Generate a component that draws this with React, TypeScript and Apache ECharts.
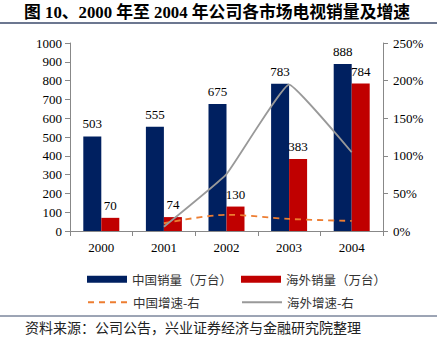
import React, { useEffect, useRef } from "react";
import * as echarts from "echarts";

const years = ["2000", "2001", "2002", "2003", "2004"];
const chinaSales = [503, 555, 675, 783, 888];
const overseasSales = [70, 74, 130, 383, 784];
const chinaGrowth: (number | string)[] = ["-", 10.3, 21.6, 16.0, 13.4];
const overseasGrowth: (number | string)[] = ["-", 5.7, 75.7, 194.6, 104.7];
const titleText = "图 10、2000 年至 2004 年公司各市场电视销量及增速";
const sourceText = "资料来源：公司公告，兴业证券经济与金融研究院整理";

const serif = "'Liberation Serif', 'Times New Roman', 'Noto Sans CJK SC', serif";
const cjk = "'Noto Sans CJK SC', sans-serif";

export default function App() {
  const ref = useRef<HTMLDivElement>(null);
  useEffect(() => {
    if (!ref.current) return;
    const chart = echarts.init(ref.current, null, { renderer: "svg" });
    const legendText = { fontFamily: cjk, fontSize: 12.5, color: "#333" };
    const hideSym = { opacity: 0 };
    chart.setOption({
      animation: false,
      backgroundColor: "#fff",
      graphic: [
        {
          type: "text",
          x: 217,
          y: 12,
          style: {
            text: titleText,
            fontFamily: serif,
            fontWeight: "bold",
            fontSize: 16.8,
            fill: "#000",
            align: "center",
            verticalAlign: "middle",
          },
        },
        { type: "line", shape: { x1: 0, y1: 23, x2: 437, y2: 23 }, style: { stroke: "#3b4a6b", lineWidth: 1.5 } },
        { type: "line", shape: { x1: 0, y1: 316, x2: 437, y2: 316 }, style: { stroke: "#3b4a6b", lineWidth: 1 } },
        {
          type: "text",
          x: 25,
          y: 320,
          style: { text: sourceText, font: `14px ${cjk}`, fill: "#222" },
        },
      ],
      grid: { left: 70, right: 54, top: 43, bottom: 110 },
      legend: [
        { data: ["中国销量（万台）"], left: 82, top: 268, itemWidth: 40, itemHeight: 7, itemGap: 0, icon: "rect", textStyle: legendText },
        { data: ["海外销量（万台）"], left: 236, top: 268, itemWidth: 40, itemHeight: 7, itemGap: 0, icon: "rect", textStyle: legendText },
        { data: [{ name: "中国增速-右", itemStyle: hideSym }], left: 82, top: 291, itemWidth: 40, itemHeight: 7, itemGap: 0, textStyle: legendText },
        { data: [{ name: "海外增速-右", itemStyle: hideSym }], left: 236, top: 291, itemWidth: 40, itemHeight: 7, itemGap: 0, textStyle: legendText },
      ],
      xAxis: {
        type: "category",
        data: years,
        axisLine: { lineStyle: { color: "#888" } },
        axisTick: { show: true, alignWithLabel: false, lineStyle: { color: "#888" } },
        axisLabel: { fontFamily: serif, fontSize: 13, color: "#000", margin: 10 },
      },
      yAxis: [
        {
          type: "value",
          min: 0,
          max: 1000,
          interval: 100,
          axisLine: { show: true, lineStyle: { color: "#888" } },
          axisTick: { show: true, lineStyle: { color: "#888" } },
          splitLine: { show: false },
          axisLabel: { fontFamily: serif, fontSize: 13, color: "#000", margin: 8, formatter: (v: number) => String(v) },
        },
        {
          type: "value",
          min: 0,
          max: 250,
          interval: 50,
          position: "right",
          axisLine: { show: true, lineStyle: { color: "#888" } },
          axisTick: { show: true, lineStyle: { color: "#888" } },
          splitLine: { show: false },
          axisLabel: { fontFamily: serif, fontSize: 13, color: "#000", margin: 10, formatter: "{value}%" },
        },
      ],
      series: [
        {
          name: "中国销量（万台）",
          type: "bar",
          data: chinaSales,
          barWidth: 18,
          barGap: "0%",
          itemStyle: { color: "#002060" },
          label: { show: true, position: "top", fontFamily: serif, fontSize: 13, color: "#000", distance: 6 },
        },
        {
          name: "海外销量（万台）",
          type: "bar",
          data: overseasSales,
          barWidth: 18,
          barGap: "0%",
          itemStyle: { color: "#C00000" },
          label: { show: true, position: "top", fontFamily: serif, fontSize: 13, color: "#000", distance: 6 },
        },
        {
          name: "中国增速-右",
          type: "line",
          yAxisIndex: 1,
          data: chinaGrowth,
          smooth: 0.3,
          symbol: "none",
          lineStyle: { color: "#ED7D31", type: [6, 5], width: 1.8 },
          itemStyle: { color: "#ED7D31" },
        },
        {
          name: "海外增速-右",
          type: "line",
          yAxisIndex: 1,
          data: overseasGrowth,
          smooth: 0.1,
          symbol: "none",
          lineStyle: { color: "#999", width: 1.8 },
          itemStyle: { color: "#999" },
        },
      ],
    });
    return () => chart.dispose();
  }, []);
  return (
    <div
      ref={ref}
      style={{ position: "fixed", left: 0, top: 0, width: 437, height: 341 }}
    />
  );
}
